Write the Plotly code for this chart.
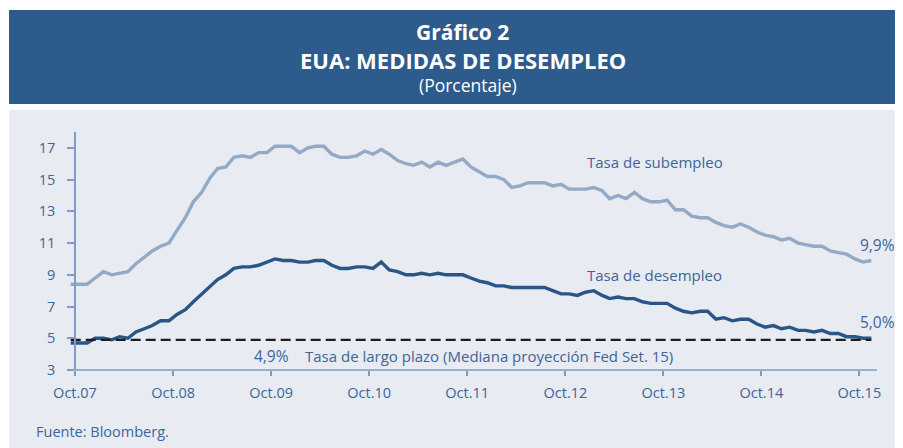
import pandas as pd
import plotly.graph_objects as go

# ---- data (monthly, Sep 2007 - Nov 2015) ----
subempleo = [8.4, 8.4, 8.4, 8.8,
             9.2, 9.0, 9.1, 9.2, 9.7, 10.1, 10.5, 10.8, 11.0, 11.8, 12.6, 13.6,
             14.2, 15.1, 15.7, 15.8, 16.4, 16.5, 16.4, 16.7, 16.7, 17.1, 17.1, 17.1,
             16.7, 17.0, 17.1, 17.1, 16.6, 16.4, 16.4, 16.5, 16.8, 16.6, 16.9, 16.6,
             16.2, 16.0, 15.9, 16.1, 15.8, 16.1, 15.9, 16.1, 16.3, 15.8, 15.5, 15.2,
             15.2, 15.0, 14.5, 14.6, 14.8, 14.8, 14.8, 14.6, 14.7, 14.4, 14.4, 14.4,
             14.5, 14.3, 13.8, 14.0, 13.8, 14.2, 13.8, 13.6, 13.6, 13.7, 13.1, 13.1,
             12.7, 12.6, 12.6, 12.3, 12.1, 12.0, 12.2, 12.0, 11.7, 11.5, 11.4, 11.2,
             11.3, 11.0, 10.9, 10.8, 10.8, 10.5, 10.4, 10.3, 10.0, 9.8, 9.9]
desempleo = [4.7, 4.7, 4.7, 5.0,
             5.0, 4.9, 5.1, 5.0, 5.4, 5.6, 5.8, 6.1, 6.1, 6.5, 6.8, 7.3,
             7.8, 8.3, 8.7, 9.0, 9.4, 9.5, 9.5, 9.6, 9.8, 10.0, 9.9, 9.9,
             9.8, 9.8, 9.9, 9.9, 9.6, 9.4, 9.4, 9.5, 9.5, 9.4, 9.8, 9.3,
             9.2, 9.0, 9.0, 9.1, 9.0, 9.1, 9.0, 9.0, 9.0, 8.8, 8.6, 8.5,
             8.3, 8.3, 8.2, 8.2, 8.2, 8.2, 8.2, 8.0, 7.8, 7.8, 7.7, 7.9,
             8.0, 7.7, 7.5, 7.6, 7.5, 7.5, 7.3, 7.2, 7.2, 7.2, 6.9, 6.7,
             6.6, 6.7, 6.7, 6.2, 6.3, 6.1, 6.2, 6.2, 5.9, 5.7, 5.8, 5.6,
             5.7, 5.5, 5.5, 5.4, 5.5, 5.3, 5.3, 5.1, 5.1, 5.0, 5.0]
largo_plazo = 4.9
fechas = pd.date_range("2007-09-01", periods=len(subempleo), freq="MS") + pd.Timedelta(days=14)

tick_fechas = pd.date_range("2007-10-01", "2015-10-01", freq="12MS")
tick_labels = ["Oct.07", "Oct.08", "Oct.09", "Oct.10", "Oct.11",
               "Oct.12", "Oct.13", "Oct.14", "Oct.15"]
y_ticks = [3, 5, 7, 9, 11, 13, 15, 17]

W, H = 903, 448
OFF = 8  # page body margin of the html page
FONT = "Open Sans"
BLUE_TXT = "#3D6698"
AXIS_C = "#7F9CC2"
DARK = "#2A5587"
LIGHT = "#93AAC6"

def px(x):
    return (x - OFF) / W

def py(y):
    return 1 - (y - OFF) / H

fig = go.Figure()
fig.add_trace(go.Scatter(x=fechas, y=subempleo, mode="lines",
                         line=dict(color=LIGHT, width=3.4), hoverinfo="skip"))
fig.add_trace(go.Scatter(x=fechas, y=desempleo, mode="lines",
                         line=dict(color=DARK, width=3.4), hoverinfo="skip"))
fig.add_trace(go.Scatter(x=[fechas[0], fechas[-1]], y=[largo_plazo, largo_plazo],
                         mode="lines", line=dict(color="#1E1E1E", width=2.4, dash="10px,5px"),
                         hoverinfo="skip"))

shapes = [
    dict(type="rect", xref="paper", yref="paper", x0=px(9), x1=1, y0=py(104), y1=py(10),
         fillcolor="#2D5B8B", line=dict(width=0), layer="below"),
    dict(type="rect", xref="paper", yref="paper", x0=px(9), x1=1, y0=0, y1=py(110),
         fillcolor="#E8EBF1", line=dict(width=0), layer="below"),
    dict(type="line", xref="paper", yref="paper", x0=px(75), x1=px(877), y0=py(370), y1=py(370),
         line=dict(color=AXIS_C, width=1.5)),
]

def ann(text, x, y, size=15, color=BLUE_TXT, xanchor="left", xref="x", yref="y", bold=False):
    return dict(text=("<b>%s</b>" % text) if bold else text, x=x, y=y, xref=xref, yref=yref,
                showarrow=False, xanchor=xanchor, yanchor="middle",
                font=dict(family=FONT, size=size, color=color))

annotations = [
    ann("Gráfico 2", px(462), py(32), size=21, color="white", xanchor="center", xref="paper", yref="paper", bold=True),
    ann("EUA: MEDIDAS DE DESEMPLEO", px(462.5), py(60), size=22, color="white", xanchor="center", xref="paper", yref="paper", bold=True),
    ann("(Porcentaje)", px(468), py(85), size=17.5, color="white", xanchor="center", xref="paper", yref="paper"),
    ann("Fuente: Bloomberg.", px(34), py(431), size=14.5, xref="paper", yref="paper"),
    ann("Tasa de subempleo", "2012-12-12", 16.12),
    ann("Tasa de desempleo", "2012-12-12", 9.0),
    ann("9,9%", "2015-09-28", 10.9, size=15.5),
    ann("5,0%", "2015-09-28", 6.03, size=15.5),
    ann("4,9%", "2009-07-20", 3.88, size=15.5),
    ann("Tasa de largo plazo (Mediana proyección Fed Set. 15)", "2010-01-28", 3.88),
]

fig.update_layout(
    width=W, height=H,
    margin=dict(l=0, r=0, t=0, b=0, autoexpand=False),
    paper_bgcolor="white", plot_bgcolor="rgba(0,0,0,0)",
    showlegend=False,
    shapes=shapes, annotations=annotations,
    xaxis=dict(domain=[px(66), px(877)], range=["2007-08-28 12:00", "2015-12-06"],
               type="date", tickvals=tick_fechas, ticktext=tick_labels, automargin=False,
               showline=False, showgrid=False, zeroline=False,
               ticks="outside", ticklen=5, tickcolor=AXIS_C, tickwidth=1.5,
               ticklabelstandoff=5,
               tickfont=dict(family=FONT, size=14.5, color=BLUE_TXT)),
    yaxis=dict(domain=[py(370), py(132)], range=[3, 18], anchor="free", position=px(75),
               tickvals=y_ticks, showline=True, linecolor=AXIS_C, linewidth=1.5, automargin=False,
               showgrid=False, zeroline=False,
               ticks="outside", ticklen=7, tickcolor=AXIS_C, tickwidth=1.5,
               ticklabelstandoff=9,
               tickfont=dict(family=FONT, size=14.5, color=BLUE_TXT)),
)

fig.write_html("out.html")
